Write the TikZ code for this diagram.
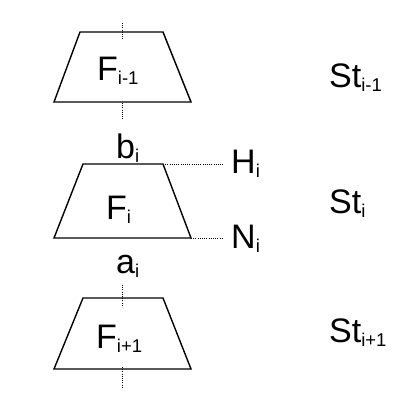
\documentclass[tikz,border=0pt]{standalone}
\usepackage{fontspec}
\setmainfont{Liberation Sans}
\newcommand{\sbs}[1]{\raisebox{-4.5pt}{\fontsize{18.5}{18.5}\selectfont #1}}
\begin{document}
\begin{tikzpicture}[x=1pt,y=-1pt,
  trap/.style={draw, line width=1.4pt, line join=miter},
  dotl/.style={line width=0.9pt, dash pattern=on 1pt off 1.2pt},
  lbl/.style={inner sep=0pt, anchor=base west, font=\fontsize{34}{36}\selectfont}]
\useasboundingbox (0,0) rectangle (409,407);
% trapezoid F_{i-1}
\coordinate (atl) at (80,32);  \coordinate (atr) at (163,32);
\coordinate (abr) at (191,102); \coordinate (abl) at (54,102);
\draw[trap] (atl) -- (atr) -- (abr) -- (abl) -- cycle;
% trapezoid F_i
\coordinate (btl) at (83,164);  \coordinate (btr) at (163,164);
\coordinate (bbr) at (191,238); \coordinate (bbl) at (54,238);
\draw[trap] (btl) -- (btr) -- (bbr) -- (bbl) -- cycle;
% trapezoid F_{i+1}
\coordinate (ctl) at (83,298);  \coordinate (ctr) at (163,298);
\coordinate (cbr) at (191,369); \coordinate (cbl) at (54,369);
\draw[trap] (ctl) -- (ctr) -- (cbr) -- (cbl) -- cycle;
% dotted ticks
\coordinate (k1a) at (122,23);  \coordinate (k1b) at (122,40);
\coordinate (k2a) at (122,103); \coordinate (k2b) at (122,119);
\coordinate (k3a) at (122,285); \coordinate (k3b) at (122,307);
\coordinate (k4a) at (122,367); \coordinate (k4b) at (122,387);
\draw[dotl] (k1a) -- (k1b);
\draw[dotl] (k2a) -- (k2b);
\draw[dotl] (k3a) -- (k3b);
\draw[dotl] (k4a) -- (k4b);
% labels
\node[lbl] (F1) at (97,80) {F\sbs{i-1}};
\node[lbl] (F2) at (106,219) {F\sbs{i}};
\node[lbl] (F3) at (96,348) {F\sbs{i+1}};
\node[lbl] (S1) at (329,87) {St\sbs{i-1}};
\node[lbl] (S2) at (329,213) {St\sbs{i}};
\node[lbl] (S3) at (329,342) {St\sbs{i+1}};
\node[lbl] (b) at (116,158) {b\sbs{i}};
\node[lbl] (a) at (116,273) {a\sbs{i}};
\node[lbl] (H) at (231,173) {H\sbs{i}};
\node[lbl] (N) at (231,248) {N\sbs{i}};
% dotted leaders
\coordinate (hend) at (223,164);
\coordinate (nend) at (222,238);
\draw[dotl] (btr) -- (hend);
\draw[dotl] (bbr) -- (nend);
\end{tikzpicture}
\end{document}
